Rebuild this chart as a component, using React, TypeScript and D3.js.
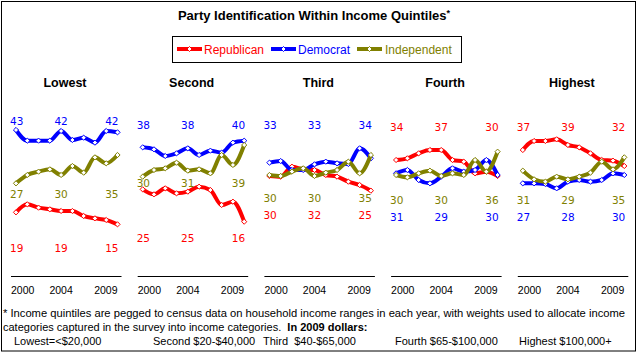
import React from "react";
import * as d3 from "d3";

const years = [2000, 2001, 2002, 2003, 2004, 2005, 2006, 2007, 2008, 2009];
const tickYears = ["2000", "2004", "2009"];
const panelNames = ["Lowest", "Second", "Third", "Fourth", "Highest"];
const seriesNames = ["Republican", "Democrat", "Independent"];

// values per quintile
const repLowest = [18.5, 20.9, 19.9, 19.4, 18.9, 18.9, 17.4, 16.7, 16.2, 14.9];
const demLowest = [43.2, 40, 40, 40, 42.9, 40.2, 40.9, 39.4, 42.9, 42.5];
const indLowest = [27.2, 29.7, 30.7, 31.4, 29.7, 32.4, 30.4, 35, 33.2, 35.7];

const repSecond = [25.4, 23.9, 25.7, 24.2, 24.7, 26.2, 25.2, 20.7, 21.7, 15.7];
const demSecond = [38, 37.4, 35.4, 36.2, 37.7, 35.7, 37, 36.4, 39.4, 40];
const indSecond = [29.2, 31.2, 31.7, 33.4, 31, 31.4, 30.2, 35.7, 32.7, 38.7];

const repThird = [29.4, 29.2, 32.2, 31.4, 31.2, 29.7, 29.2, 27.7, 26.7, 25];
const demThird = [33.4, 33.9, 31.2, 31.2, 32.9, 33.7, 33.2, 33, 37.7, 34.7];
const indThird = [29.7, 29.4, 30.7, 31.7, 29.4, 30.4, 31.2, 33.7, 30.2, 35.7];

const repFourth = [34.2, 34.7, 36.2, 37.2, 37.2, 34.2, 33.7, 30.2, 30.7, 29.4];
const demFourth = [30.2, 31.2, 28.2, 27.2, 29.2, 31.7, 30.7, 31.2, 34.2, 29.7];
const indFourth = [29.7, 29, 30.2, 31, 29.4, 30.2, 29.7, 34.2, 30.7, 36.7];

const repHighest = [37.2, 39.9, 39.9, 40.4, 38.7, 38, 36.2, 34.2, 34, 32.4];
const demHighest = [27.2, 27.2, 27, 25.7, 27.7, 28.2, 27.7, 28.2, 30.2, 29.7];
const indHighest = [31, 28.4, 27.7, 29.2, 28.4, 29.2, 30.4, 33.7, 31.4, 35];

// printed labels (2000, 2004, 2009)
const repLabels = [["19", "19", "15"], ["25", "25", "16"], ["30", "32", "25"], ["34", "37", "30"], ["37", "39", "32"]];
const demLabels = [["43", "42", "42"], ["38", "38", "40"], ["33", "33", "34"], ["31", "29", "30"], ["27", "28", "30"]];
const indLabels = [["27", "30", "35"], ["30", "31", "39"], ["30", "30", "35"], ["30", "30", "36"], ["31", "29", "35"]];

const footLine3 = ["Lowest=<$20,000", "Second $20-$40,000", "Third  $40-$65,000", "Fourth $65-$100,000", "Highest $100,000+"];

// layout
const colors = ["#FF0000", "#0000FF", "#808000"];
const labelRowY = [
  { rep: 252, dem: 124.6, ind: 197.6 },
  { rep: 242, dem: 128.6, ind: 187 },
  { rep: 219.3, dem: 128.6, ind: 202 },
  { rep: 131, dem: 221.3, ind: 203.6 },
  { rep: 131, dem: 221.3, ind: 203.6 },
];
const footLine3X = [14, 153, 263, 395, 519];

const panels = [
  [repLowest, demLowest, indLowest],
  [repSecond, demSecond, indSecond],
  [repThird, demThird, indThird],
  [repFourth, demFourth, indFourth],
  [repHighest, demHighest, indHighest],
];
const labelSets = [repLabels, demLabels, indLabels];

const yScale = d3.scaleLinear().domain([0, 50]).range([274, 274 - 166.67]);

const diamond = (cx: number, cy: number, r: number) =>
  `M${cx},${cy - r}L${cx + r},${cy}L${cx},${cy + r}L${cx - r},${cy}Z`;

const sans = "'Liberation Sans', Arial, sans-serif";
const verd = "'DejaVu Sans', Verdana, sans-serif";

export default function App() {
  const legendItems = [
    { x1: 177, text: 204 },
    { x1: 271, text: 298 },
    { x1: 357, text: 385 },
  ];
  return (
    <svg width={638} height={356} style={{ position: "absolute", left: 0, top: 0, background: "#fff" }}>
      <rect x={1.5} y={1.5} width={634} height={349.5} fill="#fff" stroke="#000" strokeWidth={1} />
      <text x={314} y={20} textAnchor="middle" fontFamily={sans} fontWeight="bold" fontSize={13} fill="#000">
        Party Identification Within Income Quintiles
        <tspan fontSize={9} dy={-4}>*</tspan>
      </text>
      <rect x={172.5} y={36.5} width={289} height={26} fill="none" stroke="#000" strokeWidth={1} />
      {legendItems.map((it, i) => (
        <g key={i}>
          <line x1={it.x1} x2={it.x1 + 25} y1={49} y2={49} stroke={colors[i]} strokeWidth={4} />
          <path d={diamond(it.x1 + 12.5, 49, 2.5)} fill="#fff" stroke={colors[i]} strokeWidth={1} />
          <text x={it.text} y={53.5} fontFamily={sans} fontSize={12} fill={colors[i]}>
            {seriesNames[i]}
          </text>
        </g>
      ))}
      {panels.map((series, pi) => {
        const p0 = 16 + pi * 126.7;
        const x = d3.scaleLinear().domain([2000, 2009]).range([p0, p0 + 101.5]);
        const line = d3
          .line<number>()
          .x((_, i) => x(years[i]))
          .y((v) => yScale(v))
          .curve(d3.curveMonotoneX);
        const rows = labelRowY[pi];
        const rowYs = [rows.rep, rows.dem, rows.ind];
        const labelX = [x(2000) - 6, x(2004), x(2009) + 1];
        const anchors = ["start", "middle", "end"];
        return (
          <g key={pi}>
            <text x={p0 + 49} y={87} textAnchor="middle" fontFamily={sans} fontWeight="bold" fontSize={12.5} fill="#000">
              {panelNames[pi]}
            </text>
            {series.map((vals, si) => (
              <g key={si}>
                <path d={line(vals) || ""} fill="none" stroke={colors[si]} strokeWidth={4} strokeLinejoin="round" />
                {vals.map((v, i) => (
                  <path key={i} d={diamond(x(years[i]), yScale(v), 2.6)} fill="#fff" stroke={colors[si]} strokeWidth={1} />
                ))}
              </g>
            ))}
            {labelSets.map((ls, si) =>
              ls[pi].map((t, k) => (
                <text key={`${si}-${k}`} x={labelX[k]} y={rowYs[si]} textAnchor={anchors[k] as any} fontFamily={verd} fontSize={10.5} fill={colors[si]}>
                  {t}
                </text>
              ))
            )}
            <line x1={x(2000) - 5} x2={x(2009) + 4} y1={276.5} y2={276.5} stroke="#000" strokeWidth={1} />
            {tickYears.map((t, k) => (
              <text key={t} x={[x(2000) - 5, x(2004), x(2009)][k]} y={294} textAnchor={anchors[k] === "end" ? "end" : anchors[k] as any} fontFamily={sans} fontSize={10.5} fill="#000">
                {t}
              </text>
            ))}
          </g>
        );
      })}
      <text x={3} y={317} fontFamily={sans} fontSize={11} fill="#000" textLength={622} lengthAdjust="spacingAndGlyphs">
        * Income quintiles are pegged to census data on household income ranges in each year, with weights used to allocate income
      </text>
      <text x={3} y={331} fontFamily={sans} fontSize={11} fill="#000" xmlSpace="preserve">
        categories captured in the survey into income categories.{"  "}
        <tspan fontWeight="bold">In 2009 dollars:</tspan>
      </text>
      {footLine3.map((t, i) => (
        <text key={i} x={footLine3X[i]} y={345} fontFamily={sans} fontSize={11} fill="#000" xmlSpace="preserve">
          {t}
        </text>
      ))}
    </svg>
  );
}
